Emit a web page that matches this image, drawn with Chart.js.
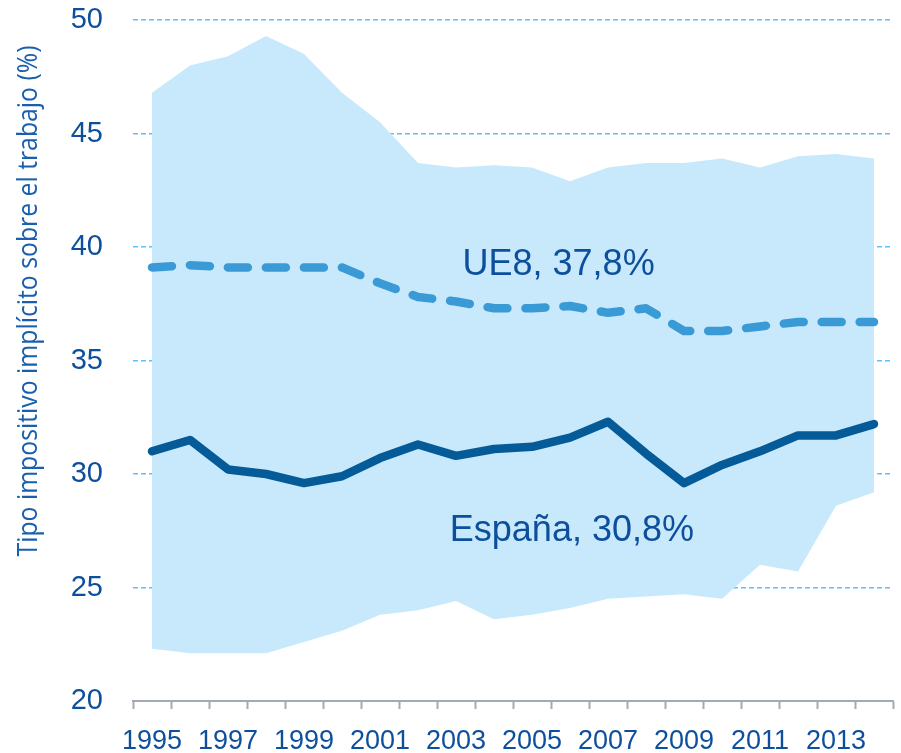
<!DOCTYPE html>
<html lang="es">
<head>
<meta charset="utf-8">
<title>Tipo impositivo implícito sobre el trabajo</title>
<script src="https://cdn.jsdelivr.net/npm/chart.js@4"></script>
<style>
    html, body { margin: 0; padding: 0; background: #ffffff; }
    #wrap { width: 901px; height: 753px; }
</style>
</head>
<body>
<div id="wrap"><canvas id="grafico" width="901" height="753"></canvas></div>
<script>
// Datos
const years = ['1995', '1996', '1997', '1998', '1999', '2000', '2001', '2002', '2003', '2004',
               '2005', '2006', '2007', '2008', '2009', '2010', '2011', '2012', '2013', '2014'];
const espana = [31.0, 31.5, 30.2, 30.0, 29.6, 29.9, 30.7, 31.3, 30.8, 31.1,
                31.2, 31.6, 32.3, 30.9, 29.6, 30.4, 31.0, 31.7, 31.7, 32.2];
const ue8 = [39.1, 39.2, 39.1, 39.1, 39.1, 39.1, 38.4, 37.8, 37.6, 37.3,
             37.3, 37.4, 37.1, 37.3, 36.3, 36.3, 36.5, 36.7, 36.7, 36.7];
const bandMax = [46.8, 48.0, 48.4, 49.3, 48.5, 46.8, 45.5, 43.7, 43.5, 43.6,
                 43.5, 42.9, 43.5, 43.7, 43.7, 43.9, 43.5, 44.0, 44.1, 43.9];
const bandMin = [22.3, 22.1, 22.1, 22.1, 22.6, 23.1, 23.8, 24.0, 24.4, 23.6,
                 23.8, 24.1, 24.5, 24.6, 24.7, 24.5, 26.0, 25.7, 28.6, 29.2];
const yTicks = [20, 25, 30, 35, 40, 45, 50];

// Etiquetas dentro del gráfico (posición en unidades de los ejes)
const noteText = ['UE8, 37,8%', 'España, 30,8%'];
const noteX = [10.7, 11.05];
const noteY = [38.75, 27.06];

const yTitle = 'Tipo impositivo implícito sobre el trabajo (%)';
const textBlue = '#0d4f9c';

document.addEventListener('DOMContentLoaded', () => {
    initChart();
});

// Plugin: título del eje Y y textos de las series
const extraText = {
    id: 'extraText',
    afterDatasetsDraw(chart) {
        const { ctx, scales } = chart;
        ctx.save();
        ctx.fillStyle = textBlue;
        ctx.font = '36px "Liberation Sans", Arial, sans-serif';
        ctx.textAlign = 'center';
        ctx.textBaseline = 'alphabetic';
        noteText.forEach((t, i) => {
            ctx.fillText(t, scales.x.getPixelForValue(noteX[i]), scales.y.getPixelForValue(noteY[i]));
        });
        ctx.restore();

        // título vertical, algo más arriba que el centro del eje
        ctx.save();
        ctx.translate(37, 301);
        ctx.rotate(-Math.PI / 2);
        ctx.fillStyle = '#1a5fae';
        ctx.font = '27px "Open Sans", sans-serif';
        ctx.textAlign = 'center';
        ctx.textBaseline = 'alphabetic';
        ctx.fillText(yTitle, 0, 0, 511);
        ctx.restore();
    }
};

function initChart() {
    const ctx = document.getElementById('grafico');
    if (!ctx) return;

    new Chart(ctx, {
        type: 'line',
        data: {
            labels: years,
            datasets: [
                {
                    label: 'España',
                    data: espana,
                    borderColor: '#055a98',
                    borderWidth: 8.5,
                    borderCapStyle: 'round',
                    borderJoinStyle: 'round',
                    pointRadius: 0,
                    fill: false
                },
                {
                    label: 'UE8',
                    data: ue8,
                    borderColor: '#3a9ad6',
                    borderWidth: 8.5,
                    borderDash: [20, 18],
                    borderCapStyle: 'round',
                    borderJoinStyle: 'round',
                    pointRadius: 0,
                    fill: false
                },
                {
                    label: 'Máximo',
                    data: bandMax,
                    borderWidth: 0,
                    borderColor: 'rgba(0,0,0,0)',
                    backgroundColor: '#c7e9fb',
                    pointRadius: 0,
                    fill: '+1'
                },
                {
                    label: 'Mínimo',
                    data: bandMin,
                    borderWidth: 0,
                    borderColor: 'rgba(0,0,0,0)',
                    pointRadius: 0,
                    fill: false
                }
            ]
        },
        options: {
            responsive: false,
            animation: false,
            events: [],
            layout: { padding: { left: 70, right: 8, top: 20, bottom: 0 } },
            plugins: {
                legend: { display: false },
                tooltip: { enabled: false }
            },
            scales: {
                x: {
                    offset: true,
                    afterFit: (scale) => { scale.height = 52; },
                    grid: {
                        offset: true,
                        drawOnChartArea: false,
                        tickLength: 8,
                        tickColor: '#a3aab6',
                        tickWidth: 2
                    },
                    border: { color: '#a3aab6', width: 2 },
                    ticks: {
                        autoSkip: false,
                        maxRotation: 0,
                        padding: 16,
                        color: textBlue,
                        font: { family: '"Liberation Sans", Arial, sans-serif', size: 27 },
                        callback: (v, i) => (i % 2 === 0 ? years[i] : '')
                    }
                },
                y: {
                    min: yTicks[0],
                    max: yTicks[yTicks.length - 1],
                    afterFit: (scale) => {
                        scale.width = 63;
                        scale.paddingTop = 0;
                        scale.paddingBottom = 0;
                    },
                    afterBuildTicks: (scale) => { scale.ticks = yTicks.map(v => ({ value: v })); },
                    grid: {
                        color: '#5cc2ff',
                        lineWidth: 1.5,
                        drawTicks: false
                    },
                    border: { display: false, dash: [5, 3] },
                    ticks: {
                        padding: 30,
                        color: textBlue,
                        font: { family: '"Liberation Sans", Arial, sans-serif', size: 29 }
                    }
                }
            }
        },
        plugins: [extraText]
    });
}
</script>
</body>
</html>
